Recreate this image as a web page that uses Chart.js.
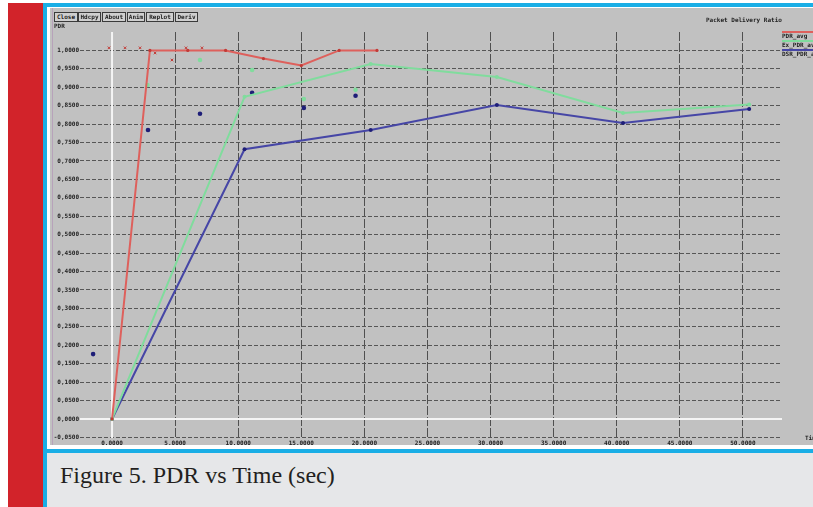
<!DOCTYPE html>
<html>
<head>
<meta charset="utf-8">
<script src="https://cdn.jsdelivr.net/npm/chart.js@4/dist/chart.umd.min.js"></script>
<style>
  html, body { margin: 0; padding: 0; background: #ffffff; }
  body { width: 813px; height: 507px; position: relative; overflow: hidden; }
  .abs { position: absolute; }
  #redbar { left: 8px; top: 3px; width: 35px; height: 504px; background: #d2232a; }
  #frame { left: 43px; top: 3px; width: 770px; height: 450px; background: #19aee6; }
  #frameInner { left: 47px; top: 7px; width: 766px; height: 442px; background: #ffffff; }
  #capLeft { left: 43px; top: 453px; width: 4px; height: 54px; background: #19aee6; }
  #caption { left: 47px; top: 453px; width: 766px; height: 54px; background: #e6e7e9; }
  #captionText { left: 60px; top: 462px; font-family: "Liberation Serif", "DejaVu Serif", serif; font-size: 24px; color: #231f20; white-space: nowrap; }
  #plotBox { left: 50px; top: 8px; width: 763px; height: 437px; background: #c1c1c1; overflow: hidden; }
  #plotEdge { left: 52px; top: 8px; width: 1px; height: 437px; background: #b7a2ba; }
  canvas#chart { position: absolute; left: 50px; top: 8px; }
  .btn { position: absolute; top: 12px; height: 8px; border: 1px solid #3a3a3a; background: #cfcfcf;
         font: bold 6px "DejaVu Sans Mono", monospace; color: #202020; line-height: 8px; text-align: center; }
  .tiny { position: absolute; font: bold 6px "DejaVu Sans Mono", monospace; color: #222; white-space: nowrap; line-height: 7px; }
  #legend { left: 782px; top: 30px; width: 31px; height: 30px; overflow: hidden; }
  .legLine { position: absolute; left: 0; width: 31px; height: 2px; }
  .legText { position: absolute; left: 0; font: bold 6px "DejaVu Sans Mono", monospace; color: #1c1c1c; white-space: nowrap; line-height: 6px; }
</style>
</head>
<body>
<div id="redbar" class="abs"></div>
<div id="frame" class="abs"></div>
<div id="frameInner" class="abs"></div>
<div id="capLeft" class="abs"></div>
<div id="caption" class="abs"></div>
<div id="captionText" class="abs">Figure 5. PDR vs Time (sec)</div>
<div id="plotBox" class="abs"></div>
<div id="plotEdge" class="abs"></div>
<canvas id="chart" width="763" height="437"></canvas>
<div id="buttons"></div>
<div class="tiny" style="left:54px; top:22px;">PDR</div>
<div class="tiny" style="left:706px; top:16px;">Packet Delivery Ratio</div>
<div class="tiny" style="left:805px; top:434px;">Time</div>
<div id="legend" class="abs"></div>

<script>
// Averaged series (line + markers)
const pdrTime   = [0, 3, 6, 9, 12, 15, 18, 21];
const pdrAvg    = [0, 1.0, 1.0, 1.0, 0.978, 0.959, 1.0, 1.0];
const runTime   = [0, 10.5, 20.5, 30.5, 40.5, 50.5];
const exPdrAvg  = [0, 0.874, 0.963, 0.928, 0.830, 0.853];
const dsrPdrAvg = [0, 0.732, 0.784, 0.852, 0.803, 0.841];

// Individual samples (markers only)
const pdrSampleTime = [-0.24, 1.03, 2.22, 3.41, 4.75, 5.86, 7.13];
const pdrSample     = [1.007, 1.007, 1.007, 0.993, 0.974, 1.007, 1.007];
const exSampleTime  = [2.8, 6.97, 11.1, 15.2, 19.3];
const exSample      = [0.906, 0.974, 0.947, 0.868, 0.893];
const dsrSampleTime = [-1.5, 2.85, 6.97, 11.1, 15.2, 19.3];
const dsrSample     = [0.176, 0.784, 0.828, 0.885, 0.844, 0.877];

// Legend names and axis ticks
const seriesNames = ["PDR_avg", "Ex_PDR_avg", "DSR_PDR_avg"];
const xTicks = [0, 5, 10, 15, 20, 25, 30, 35, 40, 45, 50];
const yTicks = [-0.05, 0, 0.05, 0.10, 0.15, 0.20, 0.25, 0.30, 0.35, 0.40, 0.45, 0.50,
                0.55, 0.60, 0.65, 0.70, 0.75, 0.80, 0.85, 0.90, 0.95, 1.00];
const buttonNames = ["Close", "Hdcpy", "About", "Anim", "Replot", "Deriv"];

const RED = "#de605c", RED_DARK = "#c23a36";
const GREEN = "#80dc9d";
const BLUE = "#4646a6", BLUE_DARK = "#1e1e78";

const pts = (xs, ys) => xs.map((x, i) => ({ x: x, y: ys[i] }));

// toolbar buttons
const btnX = [54, 78, 102, 127, 146, 175];
const btnW = [22, 21, 22, 16, 26, 21];
const btnBox = document.getElementById("buttons");
buttonNames.forEach((name, i) => {
  const b = document.createElement("div");
  b.className = "btn";
  b.style.left = btnX[i] + "px";
  b.style.width = btnW[i] + "px";
  b.textContent = name;
  btnBox.appendChild(b);
});

// legend: colour bar above each name
const legColors = [RED, GREEN, BLUE];
const legend = document.getElementById("legend");
seriesNames.forEach((name, i) => {
  const l = document.createElement("div");
  l.className = "legLine";
  l.style.top = (1 + i * 9) + "px";
  l.style.background = legColors[i];
  legend.appendChild(l);
  const t = document.createElement("div");
  t.className = "legText";
  t.style.top = (3 + i * 9) + "px";
  t.textContent = name;
  legend.appendChild(t);
});

// white zero axes, drawn under the data
const zeroAxes = {
  id: "zeroAxes",
  beforeDatasetsDraw(chart) {
    const { ctx, chartArea: a, scales: { x, y } } = chart;
    const x0 = x.getPixelForValue(0), y0 = y.getPixelForValue(0);
    ctx.save();
    ctx.strokeStyle = "#f4f4f4";
    ctx.lineWidth = 2;
    ctx.beginPath();
    ctx.moveTo(x0, a.top); ctx.lineTo(x0, a.bottom);
    ctx.moveTo(a.left, y0); ctx.lineTo(a.right, y0);
    ctx.stroke();
    ctx.restore();
  }
};

const tickFont = { family: "DejaVu Sans Mono", size: 6, weight: "bold" };
const fmt = v => Number(v).toFixed(4).replace(".", ",");

new Chart(document.getElementById("chart"), {
  type: "scatter",
  data: {
    datasets: [
      { label: seriesNames[0], data: pts(pdrTime, pdrAvg), showLine: true,
        borderColor: RED, borderWidth: 2, pointRadius: 1.6,
        pointBackgroundColor: RED_DARK, pointBorderWidth: 0 },
      { label: seriesNames[1], data: pts(runTime, exPdrAvg), showLine: true,
        borderColor: GREEN, borderWidth: 2, pointRadius: 2,
        pointBackgroundColor: GREEN, pointBorderWidth: 0 },
      { label: seriesNames[2], data: pts(runTime, dsrPdrAvg), showLine: true,
        borderColor: BLUE, borderWidth: 2, pointRadius: 2,
        pointBackgroundColor: BLUE_DARK, pointBorderWidth: 0 },
      { label: "pdr", data: pts(pdrSampleTime, pdrSample), showLine: false,
        pointStyle: "crossRot", pointRadius: 1.8, borderColor: RED_DARK, borderWidth: 1 },
      { label: "ex", data: pts(exSampleTime, exSample), showLine: false,
        pointRadius: 2.3, pointBackgroundColor: GREEN, pointBorderWidth: 0 },
      { label: "dsr", data: pts(dsrSampleTime, dsrSample), showLine: false,
        pointRadius: 2.3, pointBackgroundColor: BLUE_DARK, pointBorderWidth: 0 }
    ]
  },
  options: {
    responsive: false,
    animation: false,
    devicePixelRatio: 1,
    layout: { padding: { left: 0, top: 24, right: 31, bottom: 0 } },
    plugins: { legend: { display: false }, tooltip: { enabled: false } },
    scales: {
      x: {
        type: "linear", min: -2.54, max: 53.1,
        afterBuildTicks: s => { s.ticks = xTicks.map(v => ({ value: v })); },
        afterFit: s => { s.height = 7; },
        grid: { color: c => (c.tick && c.tick.value === 0) ? "rgba(0,0,0,0)" : "#505050",
                lineWidth: 1, drawTicks: false },
        border: { display: false, dash: [9, 2] },
        ticks: { font: tickFont, color: "#1e1e1e", padding: 2, maxRotation: 0,
                 autoSkip: false, callback: v => fmt(v) }
      },
      y: {
        type: "linear", min: -0.0516, max: 1.05,
        afterBuildTicks: s => { s.ticks = yTicks.map(v => ({ value: v })); },
        afterFit: s => { s.width = 30; },
        grid: { color: c => (c.tick && Math.abs(c.tick.value) < 1e-9) ? "rgba(0,0,0,0)" : "#565656",
                lineWidth: 1, drawTicks: false },
        border: { display: false, dash: [4, 2] },
        ticks: { font: tickFont, color: "#1e1e1e", padding: 1, autoSkip: false,
                 callback: v => fmt(v) }
      }
    }
  },
  plugins: [zeroAxes]
});
</script>
</body>
</html>
